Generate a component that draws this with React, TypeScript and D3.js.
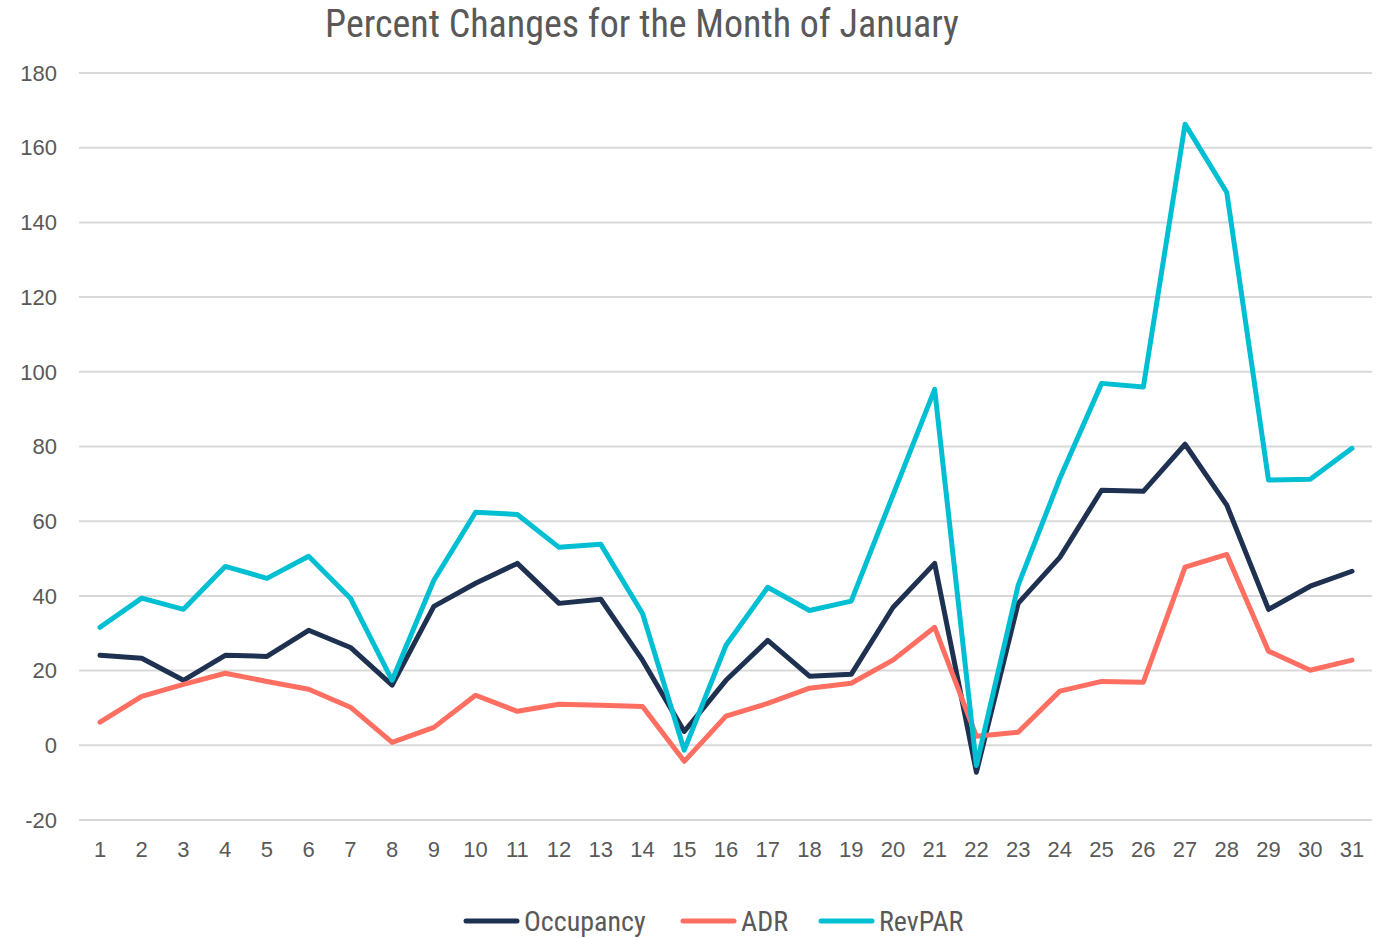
import * as d3 from "d3";
import { useEffect, useRef } from "react";

const days = d3.range(1, 32);
const occupancy = [24.1, 23.3, 17.4, 24.1, 23.8, 30.8, 26.2, 16.1, 37.2, 43.4, 48.7, 38, 39.1, 22.8, 3.7, 17.4, 28.1, 18.5, 19, 36.9, 48.7, -7.2, 38, 50.3, 68.3, 68, 80.6, 64.3, 36.4, 42.6, 46.6];
const adr = [6.2, 13.1, 16.3, 19.3, 17.1, 15, 10.2, 0.8, 4.8, 13.4, 9.1, 11, 10.7, 10.4, -4.3, 7.8, 11.2, 15.3, 16.6, 22.8, 31.6, 2.4, 3.5, 14.5, 17.1, 16.9, 47.7, 51.1, 25.2, 20.1, 22.8];
const revpar = [31.6, 39.4, 36.4, 47.9, 44.7, 50.6, 39.4, 17.4, 44.2, 62.4, 61.8, 53, 53.8, 35.3, -1.3, 26.8, 42.3, 36.1, 38.6, 67, 95.3, -5.4, 42.8, 71.5, 96.9, 95.9, 166.3, 148, 71, 71.2, 79.5];
const yTicks = [-20, 0, 20, 40, 60, 80, 100, 120, 140, 160, 180];

const seriesList = [
  { name: "Occupancy", values: occupancy, color: "#1e3150" },
  { name: "ADR", values: adr, color: "#ff6f61" },
  { name: "RevPAR", values: revpar, color: "#00bfd3" },
];

const width = 1381;
const height = 938;
const textColor = "#595959";
const narrow = "'Liberation Sans Narrow', 'Roboto Condensed', sans-serif";

export default function App() {
  const ref = useRef<SVGSVGElement>(null);

  useEffect(() => {
    const svg = d3.select(ref.current);
    svg.selectAll("*").remove();

    const x = d3.scalePoint<number>().domain(days).range([100, 1352]);
    const y = d3.scaleLinear().domain([-20, 180]).range([820, 73]);

    // title
    svg
      .append("text")
      .attr("x", 642)
      .attr("y", 37)
      .attr("text-anchor", "middle")
      .attr("font-family", narrow)
      .attr("font-size", 38)
      .attr("fill", textColor)
      .text("Percent Changes for the Month of January");

    // grid + y labels
    const yAxis = svg.append("g");
    yAxis
      .selectAll("line")
      .data(yTicks)
      .join("line")
      .attr("x1", 79)
      .attr("x2", 1372)
      .attr("y1", (d) => y(d))
      .attr("y2", (d) => y(d))
      .attr("stroke", "#d9d9d9")
      .attr("stroke-width", 2);
    yAxis
      .selectAll("text")
      .data(yTicks)
      .join("text")
      .attr("x", 57)
      .attr("y", (d) => y(d))
      .attr("dy", "0.35em")
      .attr("text-anchor", "end")
      .attr("font-family", "'Liberation Sans', sans-serif")
      .attr("font-size", 22)
      .attr("fill", textColor)
      .text((d) => d);

    // x labels
    svg
      .append("g")
      .selectAll("text")
      .data(days)
      .join("text")
      .attr("x", (d) => x(d)!)
      .attr("y", 857)
      .attr("text-anchor", "middle")
      .attr("font-family", "'Liberation Sans', sans-serif")
      .attr("font-size", 22)
      .attr("fill", textColor)
      .text((d) => d);

    // lines
    const line = d3
      .line<number>()
      .x((_, i) => x(days[i])!)
      .y((d) => y(d));
    svg
      .append("g")
      .selectAll("path")
      .data(seriesList)
      .join("path")
      .attr("d", (s) => line(s.values))
      .attr("fill", "none")
      .attr("stroke", (s) => s.color)
      .attr("stroke-width", 5)
      .attr("stroke-linejoin", "round")
      .attr("stroke-linecap", "round");

    // legend
    const legendX = [466, 683, 821];
    const legend = svg
      .append("g")
      .selectAll("g")
      .data(seriesList)
      .join("g")
      .attr("transform", (_, i) => `translate(${legendX[i]},921)`);
    legend
      .append("line")
      .attr("x1", 0)
      .attr("x2", 51)
      .attr("stroke", (s) => s.color)
      .attr("stroke-width", 5)
      .attr("stroke-linecap", "round");
    legend
      .append("text")
      .attr("x", 58)
      .attr("dy", "0.35em")
      .attr("font-family", narrow)
      .attr("font-size", 28)
      .attr("fill", textColor)
      .text((s) => s.name);
  }, []);

  return (
    <svg
      ref={ref}
      width={width}
      height={height}
      style={{ position: "absolute", left: 0, top: 0, background: "#fff" }}
    />
  );
}
